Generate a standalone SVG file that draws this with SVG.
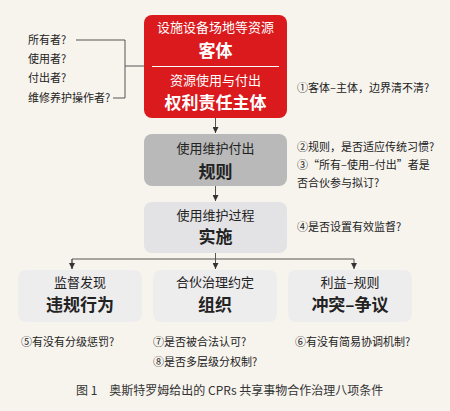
<svg xmlns="http://www.w3.org/2000/svg" width="450" height="411" viewBox="0 0 450 411">
<defs>
<marker id="ah" viewBox="0 0 6 6" refX="6" refY="3" markerWidth="6" markerHeight="6" orient="auto" markerUnits="userSpaceOnUse">
<path d="M0,0 L6,3 L0,6 z" fill="#333"/>
</marker>
</defs>
<style>
text{font-family:"Noto Sans CJK SC","Noto Sans",sans-serif;fill:#222}
.n{font-size:13px;text-anchor:middle}
.b{font-size:17px;font-weight:bold;text-anchor:middle}
.w{fill:#fff}
.a{font-size:11px}
.c{stroke:#555;stroke-width:1;fill:none}
</style>
<rect width="450" height="411" fill="#f7f4ee"/>
<g id="n-red">
<rect x="144" y="15" width="143" height="103" rx="8" fill="#db1a1d"/>
<text class="n w" x="215.5" y="32">设施设备场地等资源</text>
<text class="b w" x="215.5" y="57">客体</text>
<line x1="152" y1="66.5" x2="279" y2="66.5" stroke="#fff" stroke-width="1.2"/>
<text class="n w" x="215.5" y="85">资源使用与付出</text>
<text class="b w" x="215.5" y="109">权利责任主体</text>
</g>
<g id="n-rule">
<rect x="144" y="134" width="143" height="52" rx="8" fill="#b9b9b9"/>
<text class="n" x="215.5" y="152.5">使用维护付出</text>
<text class="b" x="215.5" y="178">规则</text>
</g>
<g id="n-impl">
<rect x="144" y="202" width="143" height="51" rx="8" fill="#e3e2e4"/>
<text class="n" x="215.5" y="219.5">使用维护过程</text>
<text class="b" x="215.5" y="243">实施</text>
</g>
<g id="n-viol">
<rect x="18" y="270" width="124" height="52" rx="8" fill="#eeedee"/>
<text class="n" x="80" y="286.5">监督发现</text>
<text class="b" x="80" y="311">违规行为</text>
</g>
<g id="n-org">
<rect x="153" y="270" width="124" height="52" rx="8" fill="#eeedee"/>
<text class="n" x="215" y="286.5">合伙治理约定</text>
<text class="b" x="215" y="311">组织</text>
</g>
<g id="n-conf">
<rect x="288" y="270" width="124" height="52" rx="8" fill="#eeedee"/>
<text class="n" x="350" y="286.5">利益–规则</text>
<text class="b" x="350" y="311">冲突–争议</text>
</g>
<g id="connectors">
<path class="c" d="M76,40 H125 V98 H113 M125,66 H144"/>
<path class="c" d="M215.5,118 V133" marker-end="url(#ah)"/>
<path class="c" d="M215.5,186 V201" marker-end="url(#ah)"/>
<path class="c" d="M215.5,253 V269" marker-end="url(#ah)"/>
<path class="c" d="M72,269 V259 H354 V269" marker-end="url(#ah)"/>
<path class="c" d="M72,259 V269" marker-end="url(#ah)"/>
</g>
<g id="labels-left">
<text class="a" x="28" y="44">所有者?</text>
<text class="a" x="28" y="63">使用者?</text>
<text class="a" x="28" y="82">付出者?</text>
<text class="a" x="28" y="102">维修养护操作者?</text>
</g>
<g id="notes">
<text class="a" x="297" y="92">①客体–主体，边界清不清?</text>
<text class="a" x="297" y="151">②规则，是否适应传统习惯?</text>
<text class="a" x="297" y="169">③“所有–使用–付出”者是</text>
<text class="a" x="297" y="187">否合伙参与拟订?</text>
<text class="a" x="297" y="231">④是否设置有效监督?</text>
<text class="a" x="21" y="346">⑤有没有分级惩罚?</text>
<text class="a" x="153" y="346">⑦是否被合法认可?</text>
<text class="a" x="153" y="366">⑧是否多层级分权制?</text>
<text class="a" x="295" y="346">⑥有没有简易协调机制?</text>
</g>
<text x="76" y="395" font-size="12" fill="#333" style="fill:#333">图 1　奥斯特罗姆给出的 CPRs 共享事物合作治理八项条件</text>
</svg>
